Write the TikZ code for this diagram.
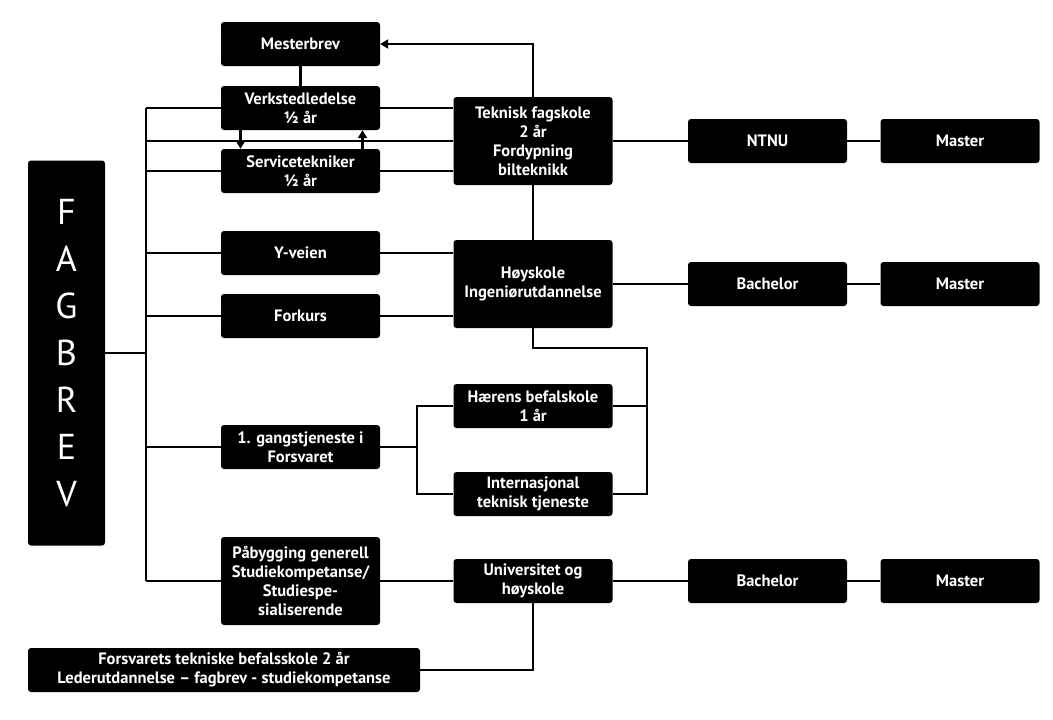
\documentclass[tikz,border=0pt]{standalone}
\usepackage{fontspec}
\setmainfont{PT Sans}
\usetikzlibrary{arrows.meta}

\begin{document}
\begin{tikzpicture}[%
  x=1pt, y=-1pt,
  >={Triangle[width=9pt,length=8pt]},
  box/.style={fill=black, text=white, rounded corners=3pt, inner sep=1pt,
    minimum width=159pt, minimum height=44pt, align=center,
    font=\fontsize{16.5}{19}\selectfont\bfseries},
  tallbox/.style={box, minimum height=88pt},
  link/.style={line width=2.4pt},
]

  \useasboundingbox[fill=white] (0,0) rectangle (1053,720);

  % left column
  \node[box, minimum width=77pt, minimum height=385pt,
    font=\fontsize{36}{47}\selectfont] (fagbrev) at (66.5,353) {F\\A\\G\\B\\R\\E\\V};
  \node[box] (mester) at (300.5,44) {Mesterbrev};
  \node[box] (verksted) at (300.5,108) {Verkstedledelse\\½ år};
  \node[box] (service) at (300.5,171) {Servicetekniker\\½ år};
  \node[box] (yveien) at (300.5,253) {Y-veien};
  \node[box] (forkurs) at (300.5,316) {Forkurs};
  \node[box] (gang) at (300.5,447) {1. gangstjeneste i\\Forsvaret};
  \node[tallbox] (paabygg) at (300.5,581) {Påbygging generell\\Studiekompetanse/\\Studiespe-\\sialiserende};
  \node[box, minimum width=392pt] (forsvar) at (224,670)
    {Forsvarets tekniske befalsskole 2 år\\Lederutdannelse -- fagbrev - studiekompetanse};

  % middle column
  \node[tallbox] (teknisk) at (533,141) {Teknisk fagskole\\2 år\\Fordypning\\bilteknikk};
  \node[tallbox] (hoyskole) at (533,284) {Høyskole\\Ingeniørutdannelse};
  \node[box] (haerens) at (533,406) {Hærens befalskole\\1 år};
  \node[box] (internasjonal) at (533,494) {Internasjonal\\teknisk tjeneste};
  \node[box] (univ) at (533,581) {Universitet og\\høyskole};

  % right columns
  \node[box] (ntnu) at (767.5,141) {NTNU};
  \node[box] (master1) at (960,141) {Master};
  \node[box] (bach1) at (767.5,284) {Bachelor};
  \node[box] (master2) at (960,284) {Master};
  \node[box] (bach2) at (767.5,581) {Bachelor};
  \node[box] (master3) at (960,581) {Master};

  \coordinate (ttop) at (146,108);
  \coordinate (tbot) at (146,581);
  \coordinate (rjoin) at (647,348);
  \coordinate (ljoin) at (417,447);

  % trunk
  \draw[link] (ttop) -- (tbot);
  \draw[link] (fagbrev.east) -- (fagbrev.east -| ttop);
  \draw[link] (verksted.west) -- (ttop);
  \draw[link] (service.west) -- (service.west -| ttop);
  \draw[link] (yveien.west) -- (yveien.west -| ttop);
  \draw[link] (forkurs.west) -- (forkurs.west -| ttop);
  \draw[link] (gang.west) -- (gang.west -| ttop);
  \draw[link] (paabygg.west) -- (tbot);
  \draw[link] (teknisk.west -| ttop) -- (teknisk.west);

  % fagskole
  \draw[link] (mester.south) -- (verksted.north);
  \draw[link,->] (teknisk.north) |- (mester.east);
  \draw[link,->] ([xshift=-60pt]verksted.south) -- ([xshift=-60pt]service.north);
  \draw[link,->] ([xshift=62pt]service.north) -- ([xshift=62pt]verksted.south);
  \draw[link] (verksted.east) -- (verksted.east -| teknisk.west);
  \draw[link] (service.east) -- (service.east -| teknisk.west);
  \draw[link] (teknisk.east) -- (ntnu.west);
  \draw[link] (ntnu.east) -- (master1.west);
  \draw[link] (teknisk.south) -- (hoyskole.north);

  % hoyskole
  \draw[link] (yveien.east) -- (yveien.east -| hoyskole.west);
  \draw[link] (forkurs.east) -- (forkurs.east -| hoyskole.west);
  \draw[link] (hoyskole.east) -- (bach1.west);
  \draw[link] (bach1.east) -- (master2.west);
  \draw[link] (hoyskole.south) |- (rjoin) |- (internasjonal.east);
  \draw[link] (haerens.east) -- (haerens.east -| rjoin);

  % forsvaret
  \draw[link] (gang.east) -- (ljoin);
  \draw[link] (haerens.west) -| (ljoin) |- (internasjonal.west);

  % universitet
  \draw[link] (paabygg.east) -- (univ.west);
  \draw[link] (univ.east) -- (bach2.west);
  \draw[link] (bach2.east) -- (master3.west);
  \draw[link] (forsvar.east) -| (univ.south);

\end{tikzpicture}
\end{document}
